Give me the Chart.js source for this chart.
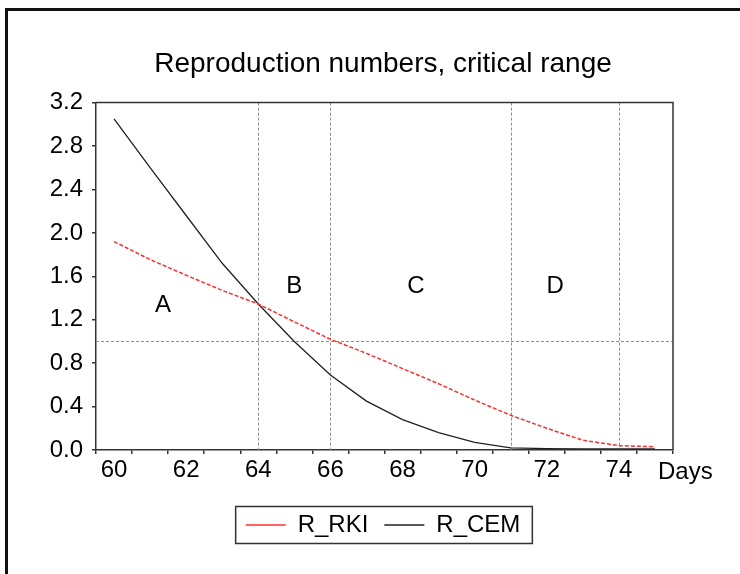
<!DOCTYPE html>
<html><head><meta charset="utf-8">
<script src="https://cdn.jsdelivr.net/npm/chart.js@4/dist/chart.umd.min.js"></script>
<style>html,body{margin:0;padding:0;background:#fff;}#wrap{position:relative;width:740px;height:574px;}</style>
</head><body><div id="wrap"><canvas id="c" width="740" height="574"></canvas></div>
<script>
const days = ['60','61','62','63','64','65','66','67','68','69','70','71','72','73','74','75'];
const rRKI = [1.92,1.754,1.61,1.47,1.345,1.18,1.02,0.89,0.75,0.61,0.46,0.32,0.20,0.09,0.04,0.03];
const rCEM = [3.05,2.60,2.16,1.72,1.345,1.00,0.69,0.45,0.28,0.16,0.07,0.02,0.012,0.01,0.01,0.01];
const refDays = ['64','66','71','74'];
const refLevel = 1.0;
const zoneLabels = ['A','B','C','D'];
const zoneDay = [61.36,65.0,68.37,72.23];
const zoneValue = [1.33,1.51,1.51,1.51];
const FONT = "'Liberation Sans', Arial, sans-serif";

const overlay = {
  id: 'overlay',
  afterLayout(chart) {
    // centre title and legend over the plot area, as in the reference
    const L = 93, R = chart.chartArea.right;
    if (chart.titleBlock) { chart.titleBlock.left = L; chart.titleBlock.right = R; chart.titleBlock.width = R - L; }
    if (chart.legend) { chart.legend.left = L; chart.legend.right = R; chart.legend.width = R - L; }
  },
  beforeDraw(chart) {
    const ctx = chart.ctx;
    ctx.save();
    ctx.fillStyle = '#fff';
    ctx.fillRect(0, 0, chart.width, chart.height);
    ctx.fillStyle = '#111';
    ctx.fillRect(5, 8, chart.width - 5, 3);
    ctx.fillRect(5, 8, 3, chart.height - 8);
    ctx.restore();
  },
  beforeDatasetsDraw(chart) {
    const {ctx, chartArea: a, scales: {x, y}} = chart;
    ctx.save();
    ctx.strokeStyle = '#8c8c8c';
    ctx.lineWidth = 1;
    ctx.setLineDash([3, 2]);
    ctx.beginPath();
    refDays.forEach(d => {
      const px = Math.round(x.getPixelForValue(days.indexOf(d))) + 0.5;
      ctx.moveTo(px, a.top); ctx.lineTo(px, a.bottom);
    });
    const py = Math.round(y.getPixelForValue(refLevel)) + 0.5;
    ctx.moveTo(a.left, py); ctx.lineTo(a.right, py);
    ctx.stroke();
    ctx.restore();
  },
  afterDraw(chart) {
    const {ctx, chartArea: a, scales: {x, y}} = chart;
    ctx.save();
    ctx.strokeStyle = '#333';
    ctx.lineWidth = 1.5;
    ctx.beginPath();
    ctx.moveTo(a.left, a.top); ctx.lineTo(a.right, a.top); ctx.lineTo(a.right, a.bottom);
    ctx.stroke();
    ctx.fillStyle = '#000';
    ctx.font = '24px ' + FONT;
    ctx.textAlign = 'center';
    ctx.textBaseline = 'middle';
    zoneLabels.forEach((t, i) => {
      ctx.fillText(t, x.getPixelForValue(zoneDay[i] - 60), y.getPixelForValue(zoneValue[i]));
    });
    ctx.textAlign = 'left';
    ctx.fillText('Days', 658, 472);
    const hb = chart.legend.legendHitBoxes;
    if (hb && hb.length) {
      const l = Math.min(...hb.map(h => h.left));
      const r = Math.max(...hb.map(h => h.left + h.width));
      const cy = hb[0].top + hb[0].height / 2;
      ctx.strokeStyle = '#333';
      ctx.lineWidth = 1.5;
      ctx.strokeRect(l - 10, cy - 18.5, r - l + 22, 37);
    }
    ctx.restore();
  }
};

new Chart(document.getElementById('c'), {
  type: 'line',
  data: {
    labels: days,
    datasets: [
      {label: 'R_RKI', data: rRKI, borderColor: 'rgb(255,45,45)', borderWidth: 1.5, borderDash: [4, 2], pointRadius: 0, tension: 0, fill: false},
      {label: 'R_CEM', data: rCEM, borderColor: '#222', borderWidth: 1.3, pointRadius: 0, tension: 0, fill: false}
    ]
  },
  options: {
    responsive: false,
    animation: false,
    devicePixelRatio: 1,
    layout: {padding: {left: 10, right: 67, top: 0, bottom: 27}, autoPadding: false},
    plugins: {
      tooltip: {enabled: false},
      title: {display: true, text: 'Reproduction numbers, critical range', color: '#000',
        font: {family: FONT, size: 28, weight: 'normal'}, padding: {top: 47, bottom: 22}},
      legend: {position: 'bottom', labels: {color: '#000', font: {family: FONT, size: 24},
        usePointStyle: true, pointStyle: 'line', pointStyleWidth: 40, padding: 16}}
    },
    scales: {
      x: {
        offset: true,
        afterFit: s => { s.height = 47; },
        grid: {offset: true, drawOnChartArea: false, drawTicks: true, tickLength: 4, color: '#333', lineWidth: 1.5},
        border: {display: true, color: '#333', width: 1.5},
        ticks: {autoSkip: false, maxRotation: 0, color: '#000', padding: 2, font: {family: FONT, size: 24},
          callback: (v, i) => (i % 2 === 0 ? days[i] : '')}
      },
      y: {
        min: 0, max: 3.2,
        afterFit: s => { s.width = 86; },
        grid: {drawOnChartArea: false, drawTicks: true, tickLength: 4, color: '#333', lineWidth: 1.5},
        border: {display: true, color: '#333', width: 1.5},
        ticks: {stepSize: 0.4, color: '#000', padding: 9, font: {family: FONT, size: 24},
          callback: v => Number(v).toFixed(1)}
      }
    }
  },
  plugins: [overlay]
});
</script></body></html>
